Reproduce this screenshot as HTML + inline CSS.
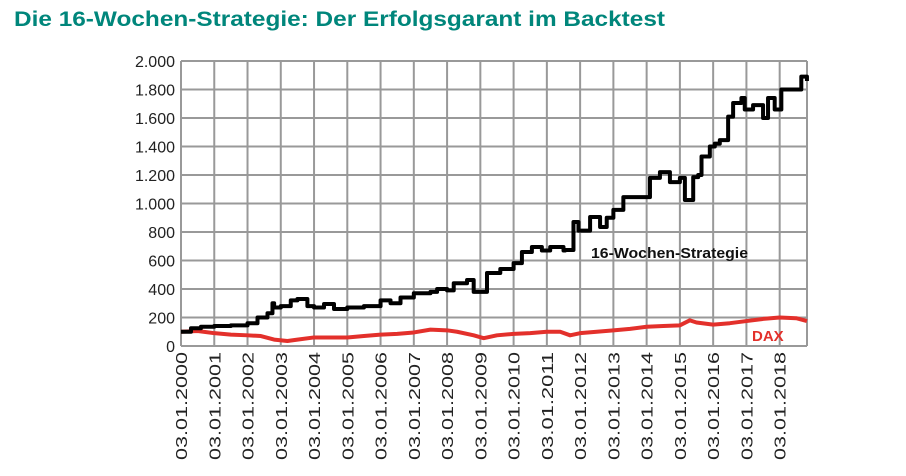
<!DOCTYPE html>
<html><head><meta charset="utf-8"><style>
body{margin:0;background:#fff;width:906px;height:476px;overflow:hidden}
svg{display:block}
</style></head><body>
<svg id="c" width="906" height="476" font-family="Liberation Sans, sans-serif">
<text x="14" y="26" fill="#00867b" font-size="21" font-weight="bold" textLength="651" lengthAdjust="spacingAndGlyphs">Die 16-Wochen-Strategie: Der Erfolgsgarant im Backtest</text>
</svg>
<script>
const years=[2000,2001,2002,2003,2004,2005,2006,2007,2008,2009,2010,2011,2012,2013,2014,2015,2016,2017,2018];
const yTicks=[0,200,400,600,800,1000,1200,1400,1600,1800,2000];
const yTickLabels=["0","200","400","600","800","1.000","1.200","1.400","1.600","1.800","2.000"];
const stratT=[2000,2000.3,2000.6,2001,2001.5,2002,2002.3,2002.6,2002.75,2002.8,2003,2003.3,2003.5,2003.8,2004,2004.3,2004.6,2005,2005.5,2006,2006.3,2006.6,2007,2007.5,2007.7,2008,2008.2,2008.6,2008.8,2009.2,2009.6,2010,2010.25,2010.55,2010.85,2011.1,2011.5,2011.55,2011.8,2011.95,2012.3,2012.6,2012.8,2013,2013.3,2013.6,2014.1,2014.4,2014.7,2015,2015.15,2015.4,2015.55,2015.65,2015.9,2016.05,2016.2,2016.45,2016.6,2016.85,2016.95,2017.2,2017.5,2017.65,2017.85,2018.05,2018.35,2018.65,2018.82];
const stratV=[100,125,135,140,145,160,200,230,300,270,280,320,330,280,270,295,260,270,280,320,300,340,370,380,400,390,440,463,380,512,540,582,660,695,670,695,670,674,870,810,905,835,900,955,1045,1045,1180,1220,1150,1180,1025,1185,1200,1330,1400,1420,1445,1610,1705,1740,1660,1690,1600,1740,1660,1800,1800,1890,1860];
const daxT=[2000,2000.5,2001,2001.5,2002,2002.4,2002.8,2003.2,2003.5,2004,2004.5,2005,2005.5,2006,2006.5,2007,2007.5,2008,2008.3,2008.8,2009.1,2009.5,2010,2010.5,2011,2011.4,2011.7,2012,2012.5,2013,2013.5,2014,2014.5,2015,2015.3,2015.5,2016,2016.5,2017,2017.5,2018,2018.5,2018.82];
const daxV=[100,105,90,80,75,70,45,35,45,60,60,60,70,80,85,95,115,110,100,75,55,75,85,90,100,100,75,90,100,110,120,135,140,145,180,165,150,160,175,190,200,195,175];
const NS='http://www.w3.org/2000/svg',svg=document.getElementById('c');
const X0=181,X1=807,Y0=346,Y1=61;
const xS=t=>X0+(t-2000)*33.26, yS=v=>Y0-(v/2000)*(Y0-Y1);
function el(tag,attrs,parent){const e=document.createElementNS(NS,tag);for(const k in attrs)e.setAttribute(k,attrs[k]);(parent||svg).appendChild(e);return e;}
const grid=el('g',{});


yTicks.forEach((v,i)=>{
 const l=el('line',{x1:X0,x2:X1,y1:yS(v),y2:yS(v),stroke:'#999','stroke-width':2},grid);
 
 
 const t=el('text',{x:X0-6,y:yS(v)+6,'text-anchor':'end','font-size':16,fill:'#222'});
 t.textContent=yTickLabels[i];
 
 
});
years.forEach(y=>{
 const l=el('line',{x1:xS(y),x2:xS(y),y1:Y1,y2:Y0,stroke:'#999','stroke-width':2},grid);
 
 
 const t=el('text',{transform:`translate(${xS(y)+6},352) rotate(-90)`,'text-anchor':'end','font-size':16,fill:'#222',textLength:108,lengthAdjust:'spacingAndGlyphs'});
 t.textContent='03.01.'+y;
 
 
});
const r=el('line',{x1:X1,x2:X1,y1:Y1,y2:Y0,stroke:'#999','stroke-width':2},grid);


function stepPath(T,V){let d='';T.forEach((t,i)=>{const x=xS(t),y=yS(V[i]);if(i===0)d='M'+x+' '+y;else{d+=' H'+x+' V'+y;}});return d;}
function linePath(T,V){return T.map((t,i)=>(i?'L':'M')+xS(t)+' '+yS(V[i])).join(' ');}
const dax=el('path',{d:linePath(daxT,daxV),fill:'none',stroke:'#e3302b','stroke-width':4,'stroke-linejoin':'round'});


const st=el('path',{d:stepPath(stratT,stratV),fill:'none',stroke:'#000','stroke-width':4,'stroke-linejoin':'round'});


const l1=el('text',{x:591,y:258,'font-size':15,'font-weight':'bold',fill:'#111',textLength:157,lengthAdjust:'spacingAndGlyphs'});
l1.textContent='16-Wochen-Strategie';


const l2=el('text',{x:752,y:341,'font-size':15,'font-weight':'bold',fill:'#e3302b'});
l2.textContent='DAX';


</script>
</body></html>
